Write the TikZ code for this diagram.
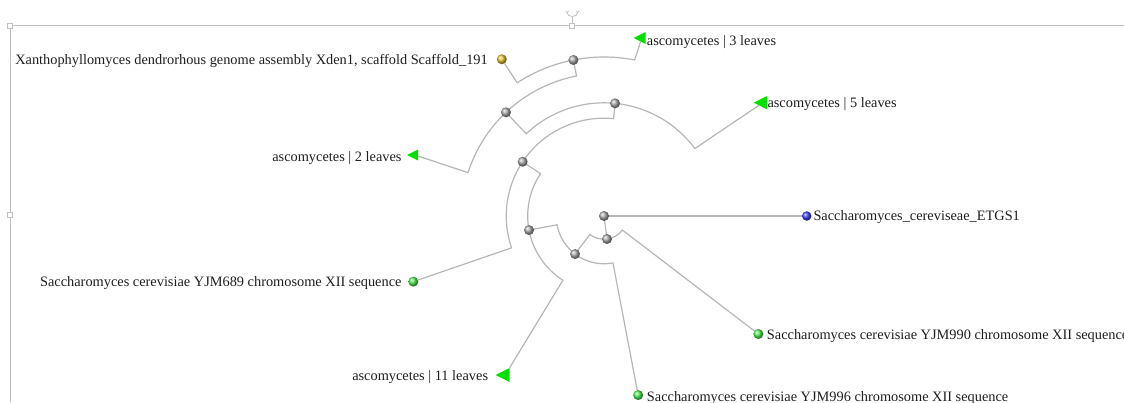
\documentclass[tikz,border=0pt]{standalone}
\usepackage{fontspec}
\setmainfont{Liberation Serif}
\usetikzlibrary{shapes.geometric,backgrounds}
\definecolor{branch}{RGB}{182,182,182}
\definecolor{framec}{RGB}{192,192,192}
\definecolor{txt}{RGB}{30,30,30}
\definecolor{yel}{RGB}{230,195,50}
\definecolor{blu}{RGB}{60,60,255}
\definecolor{grn}{RGB}{80,240,80}
\definecolor{trig}{RGB}{0,225,0}
\definecolor{nodeg}{RGB}{170,170,170}
\begin{document}
\begin{tikzpicture}[x=1pt,y=-1pt,
  br/.style={draw=branch, line width=1.2pt},
  gball/.style={circle, inner sep=0pt, minimum size=10pt, ball color=nodeg},
  lball/.style={circle, inner sep=0pt, minimum size=10pt, ball color=#1},
  tri/.style={isosceles triangle, isosceles triangle stretches, shape border rotate=180,
              fill=trig, inner sep=0pt, minimum width=#1, minimum height=#1},
  lbl/.style={font=\fontsize{14.35}{16}\selectfont, text=txt, inner sep=0pt},
  handle/.style={rectangle, draw=framec, fill=white, line width=0.8pt, minimum size=5pt, inner sep=0pt},
  fr/.style={draw=framec, line width=1pt}]
\useasboundingbox (0,0) rectangle (1124,402);
\clip (0,0) rectangle (1124,402);
% selection frame
\draw[fr] (10,25.5) -- (1124,25.5);
\draw[fr] (10,25.5) -- (10,402);
\node[handle] (h1) at (10,25.5) {};
\node[handle] (h2) at (572.3,25.5) {};
\node[handle] (h3) at (10,215) {};
\coordinate (rot) at (572.3,16.5);
\draw[framec, line width=0.8pt] (h2) -- (rot);
\draw[framec, line width=0.8pt] (567,12.5) arc[start angle=180, end angle=0, x radius=5.3, y radius=4];
\draw[framec, line width=0.7pt] (565.5,11) -- (567,12.5) -- (568.5,11);
\draw[framec, line width=0.7pt] (576,11) -- (577.6,12.5) -- (579,11);
% tree nodes
\begin{scope}[shift={(604,216)}]
  \node[gball] (r0) at (0,0) {};
  \node[gball] (n1) at (82.6:23.2) {};
  \node[gball] (n2) at (127.3:47.8) {};
  \node[gball] (n3) at (169.4:76.3) {};
  \node[gball] (n4) at (213.7:97.8) {};
  \node[gball] (n6) at (275.6:113.2) {};
  \node[gball] (n5) at (226.6:142.7) {};
  \node[gball] (n7) at (258.9:159) {};
  \node[lball=blu, minimum size=9.5pt] (etgs) at (0:202.7) {};
  \node[lball=grn] (y990) at (37.4:194.3) {};
  \node[lball=grn] (y996) at (79.2:182.3) {};
  \node[lball=grn] (y689) at (161:201.7) {};
  \node[lball=yel] (xan) at (236.9:187.1) {};
\end{scope}
\node[tri=12pt, anchor=apex] (t3) at (633,38) {};
\node[tri=13pt, anchor=apex] (t5) at (753.3,102.7) {};
\node[tri=11pt, anchor=apex] (t2) at (406.7,155) {};
\node[tri=14pt, anchor=apex] (t11) at (495,375) {};
% labels
\node[lbl, anchor=base east] (lxan) at (488,64) {Xanthophyllomyces dendrorhous genome assembly Xden1, scaffold Scaffold\_191};
\node[lbl, anchor=base west] (l3) at (646.7,45) {ascomycetes | 3 leaves};
\node[lbl, anchor=base west] (l5) at (767.3,107.8) {ascomycetes | 5 leaves};
\node[lbl, anchor=base east] (l2) at (401.7,161.8) {ascomycetes | 2 leaves};
\node[lbl, anchor=base west] (letgs) at (813.3,220.5) {Saccharomyces\_cereviseae\_ETGS1};
\node[lbl, anchor=base east] (l689) at (401.7,286) {Saccharomyces cerevisiae YJM689 chromosome XII sequence};
\node[lbl, anchor=base west] (l990) at (766.7,339.5) {Saccharomyces cerevisiae YJM990 chromosome XII sequence};
\node[lbl, anchor=base east] (l11) at (488.3,380.5) {ascomycetes | 11 leaves};
\node[lbl, anchor=base west] (l996) at (646.7,401.5) {Saccharomyces cerevisiae YJM996 chromosome XII sequence};
% branches
\begin{scope}[on background layer]
  \draw[br] (r0.center) -- (etgs);
  \draw[br] (r0.center) -- (n1.center);
  \draw[br] (n1.center) arc[start angle=82.6, end angle=37.4, radius=23.2] -- (y990);
  \draw[br] (n1.center) arc[start angle=82.6, end angle=127.3, radius=23.2] -- (n2.center);
  \draw[br] (n2.center) arc[start angle=127.3, end angle=79.2, radius=47.8] -- (y996);
  \draw[br] (n2.center) arc[start angle=127.3, end angle=169.4, radius=47.8] -- (n3.center);
  \draw[br] (n3.center) arc[start angle=169.4, end angle=122.6, radius=76.3] -- (t11);
  \draw[br] (n3.center) arc[start angle=169.4, end angle=213.7, radius=76.3] -- (n4.center);
  \draw[br] (n4.center) arc[start angle=213.7, end angle=161, radius=97.8] -- (y689);
  \draw[br] (n4.center) arc[start angle=213.7, end angle=275.6, radius=97.8] -- (n6.center);
  \draw[br] (n6.center) arc[start angle=275.6, end angle=226.6, radius=113.2] -- (n5.center);
  \draw[br] (n6.center) arc[start angle=275.6, end angle=323.4, radius=113.2] -- (t5);
  \draw[br] (n5.center) arc[start angle=226.6, end angle=197.7, radius=142.7] -- (t2);
  \draw[br] (n5.center) arc[start angle=226.6, end angle=258.9, radius=142.7] -- (n7.center);
  \draw[br] (n7.center) arc[start angle=258.9, end angle=236.9, radius=159] -- (xan);
  \draw[br] (n7.center) arc[start angle=258.9, end angle=281.1, radius=159] -- (t3);
\end{scope}
\end{tikzpicture}
\end{document}
